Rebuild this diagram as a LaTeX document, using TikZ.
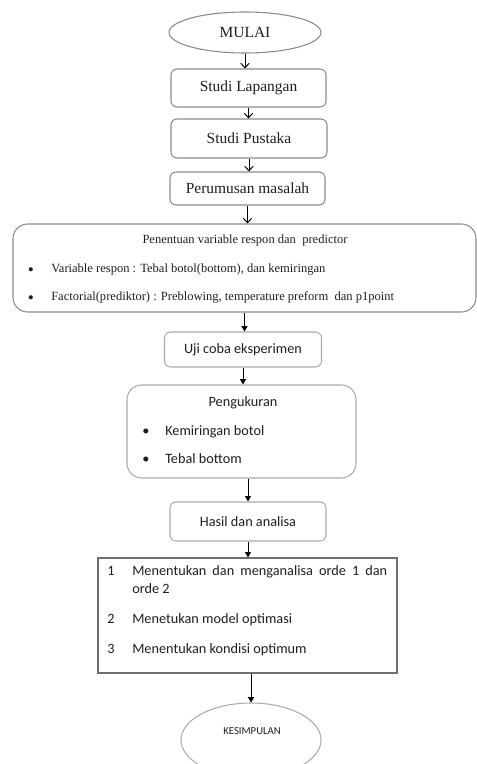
\documentclass[tikz,border=0pt]{standalone}
\usepackage{fontspec}
\setmainfont{Liberation Serif}
\newfontfamily\calibri{Carlito}
\usetikzlibrary{shapes.geometric,arrows.meta}

\definecolor{boxline}{HTML}{8A8A8A}
\definecolor{softline}{HTML}{ABABAB}
\definecolor{rectline}{HTML}{6E6E6E}
\definecolor{ink}{HTML}{1E1E1E}

\tikzset{
    serifbox/.style={draw=boxline, line width=0.8pt, rounded corners=4.5pt, inner sep=0pt, text=ink, font=\fontsize{11.6}{14}\selectfont},
    serifoval/.style={serifbox, ellipse},
    bigbox/.style={draw=boxline, line width=0.8pt, rounded corners=11pt, inner sep=0pt},
    sansbox/.style={draw=softline, line width=0.8pt, rounded corners=4.5pt, inner sep=0pt, text=ink, font=\calibri\fontsize{10.7}{13}\selectfont},
    sansbig/.style={draw=softline, line width=0.8pt, rounded corners=11pt, inner sep=0pt},
    listbox/.style={draw=rectline, line width=0.8pt, inner sep=0pt},
    smallserif/.style={text=ink, inner sep=0pt, text height=1.6ex, text depth=.3ex, font=\fontsize{9.4}{11}\selectfont},
    serifdot/.style={text=ink, inner sep=0pt, font=\fontsize{13}{14}\selectfont},
    sanstext/.style={text=ink, inner sep=0pt, text height=1.6ex, text depth=.3ex, font=\calibri\fontsize{10.7}{13}\selectfont},
    barb/.style={line width=0.7pt, -{Straight Barb[length=3.5pt,width=6.5pt]}},
    tri/.style={line width=0.7pt, -{Triangle[length=4pt,width=4.5pt]}}
}

\begin{document}
\begin{tikzpicture}[x=0.75pt,y=-0.75pt]
    \useasboundingbox (0,0) rectangle (477,764);

    \node[serifoval, minimum width=114pt, minimum height=30.75pt] at (245, 32.5) (mulai) {MULAI};
    \node[serifbox, minimum width=116.25pt, minimum height=28.5pt] at (248.5, 88) (lapangan) {Studi Lapangan};
    \node[serifbox, minimum width=117pt, minimum height=29.25pt] at (249, 138.5) (pustaka) {Studi Pustaka};
    \node[serifbox, minimum width=116.25pt, minimum height=24.75pt] at (247.5, 188.5) (rumusan) {Perumusan masalah};

    \node[bigbox, minimum width=347.25pt, minimum height=66pt] at (244.5, 268) (penentuan) {};
    \node[smallserif] at (245, 240) (penentuanjudul) {Penentuan variable respon dan \ predictor};
    \node[serifdot] at (31, 271.5) (dot1) {\textbullet};
    \node[smallserif, anchor=west] at (51, 269) (respon) {Variable respon : Tebal botol(bottom), dan kemiringan};
    \node[serifdot] at (31, 299.5) (dot2) {\textbullet};
    \node[smallserif, anchor=west] at (51, 297) (faktor) {Factorial(prediktor) : Preblowing, temperature preform \ dan p1point};

    \node[sansbox, minimum width=117.75pt, minimum height=26.25pt] at (243, 349.5) (uji) {Uji coba eksperimen};

    \node[sansbig, minimum width=171.75pt, minimum height=69.75pt] at (241.5, 431.5) (ukur) {};
    \node[sanstext] at (243, 403) (ukurjudul) {Pengukuran};
    \node[sanstext] at (146, 432) (dot3) {\textbullet};
    \node[sanstext, anchor=west] at (165, 432) (miring) {Kemiringan botol};
    \node[sanstext] at (146, 460) (dot4) {\textbullet};
    \node[sanstext, anchor=west] at (165, 460) (tebal) {Tebal bottom};

    \node[sansbox, minimum width=117pt, minimum height=29.25pt] at (248, 521.5) (hasil) {Hasil dan analisa};

    \node[listbox, minimum width=224.25pt, minimum height=86.25pt] at (247.5, 615.5) (tentukan) {};
    \node[sanstext, anchor=west] at (107, 572) (no1) {1};
    \node[sanstext, anchor=west] at (132, 572) (orde) {\makebox[191.25pt][s]{Menentukan dan menganalisa orde 1 dan}};
    \node[sanstext, anchor=west] at (132, 590) (orde2) {orde 2};
    \node[sanstext, anchor=west] at (107, 620) (no2) {2};
    \node[sanstext, anchor=west] at (132, 620) (model) {Menetukan model optimasi};
    \node[sanstext, anchor=west] at (107, 650) (no3) {3};
    \node[sanstext, anchor=west] at (132, 650) (kondisi) {Menentukan kondisi optimum};

    \node[draw=softline, line width=0.8pt, ellipse, inner sep=0pt, minimum width=105pt, minimum height=55.5pt] at (251, 740) (simpulan) {};
    \node[sanstext, font=\calibri\fontsize{8}{9}\selectfont] at (252, 731) (simpulanteks) {KESIMPULAN};

    \draw [barb] (mulai.south) -- (mulai.south |- lapangan.north);
    \draw [barb] (lapangan.south) -- (lapangan.south |- pustaka.north);
    \draw [barb] (pustaka.south) -- (pustaka.south |- rumusan.north);
    \draw [barb] (rumusan.south) -- (rumusan.south |- penentuan.north);
    \draw [tri] (penentuan.south) -- (penentuan.south |- uji.north);
    \draw [tri] (uji.south) -- (uji.south |- ukur.north);
    \draw [tri] (hasil.north |- ukur.south) -- (hasil.north);
    \draw [tri] (hasil.south) -- (hasil.south |- tentukan.north);
    \draw [tri] (simpulan.north |- tentukan.south) -- (simpulan.north);
\end{tikzpicture}
\end{document}
